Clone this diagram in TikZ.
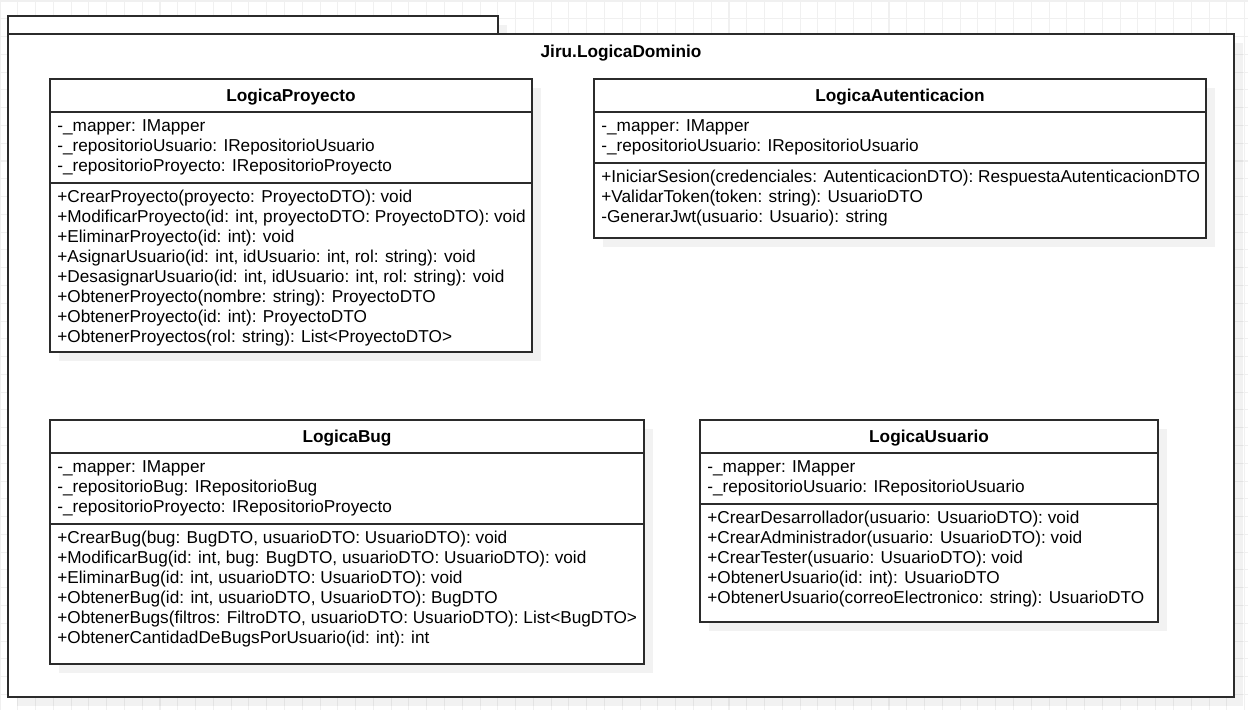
\documentclass[tikz,border=0pt]{standalone}
\usepackage{fontspec}
\setmainfont{Liberation Sans}
\usetikzlibrary{matrix,calc}

\definecolor{linecol}{HTML}{2B2B2B}
\definecolor{gridcol}{HTML}{F0F0F0}

\begin{document}
\begin{tikzpicture}[x=0.02cm,y=-0.02cm,
		box/.style={draw=linecol,line width=0.8pt,fill=white},
		divider/.style={draw=linecol,line width=0.8pt},
		drop/.style={fill=black,fill opacity=0.05},
		classname/.style={font=\fontsize{9.8}{12}\selectfont\bfseries},
		members/.style={matrix of nodes,anchor=north west,inner sep=0pt,row sep=0pt,
					nodes={anchor=base west,inner sep=0pt,text height=0.28cm,text depth=0.12cm,
					font=\fontsize{9.8}{12}\selectfont}}]
	\useasboundingbox (0,0) rectangle (1248,710);

	\foreach \i in {0,...,70}
		\draw[gridcol,line width=0.6pt] (\i*17.78,0) -- (\i*17.78,710);
	\foreach \j in {0,...,40}
		\draw[gridcol,line width=0.6pt] (0,\j*17.78+1) -- (1248,\j*17.78+1);

	\fill[drop] (17,25) rectangle (507,43);
	\fill[drop] (17,43) rectangle (1243,706);
	\draw[box] (8,16) rectangle (498,34);
	\draw[box] (8,34) rectangle (1234,697);
	\node[classname] (pkg) at (621,53) {Jiru.LogicaDominio};

	\fill[drop] (59,88) rectangle (541,361);
	\draw[box] (50,79) rectangle (532,352);
	\draw[divider] (50,112) -- (532,112) (50,183) -- (532,183);
	\node[classname] (proy) at (291,97.5) {LogicaProyecto};
	\matrix (proyattr) [members] at (57,117.5)
	{
	-\_mapper: IMapper \\
	-\_repositorioUsuario: IRepositorioUsuario \\
	-\_repositorioProyecto: IRepositorioProyecto \\
	};
	\matrix (proyops) [members] at (57,188)
	{
	+CrearProyecto(proyecto: ProyectoDTO): void \\
	+ModificarProyecto(id: int, proyectoDTO: ProyectoDTO): void \\
	+EliminarProyecto(id: int): void \\
	+AsignarUsuario(id: int, idUsuario: int, rol: string): void \\
	+DesasignarUsuario(id: int, idUsuario: int, rol: string): void \\
	+ObtenerProyecto(nombre: string): ProyectoDTO \\
	+ObtenerProyecto(id: int): ProyectoDTO \\
	+ObtenerProyectos(rol: string): List\textless ProyectoDTO\textgreater \\
	};

	\fill[drop] (603,88) rectangle (1215,247);
	\draw[box] (594,79) rectangle (1206,238);
	\draw[divider] (594,112) -- (1206,112) (594,163) -- (1206,163);
	\node[classname] (auth) at (900,97.5) {LogicaAutenticacion};
	\matrix (authattr) [members] at (601,117.5)
	{
	-\_mapper: IMapper \\
	-\_repositorioUsuario: IRepositorioUsuario \\
	};
	\matrix (authops) [members] at (601,168)
	{
	+IniciarSesion(credenciales: AutenticacionDTO): RespuestaAutenticacionDTO \\
	+ValidarToken(token: string): UsuarioDTO \\
	-GenerarJwt(usuario: Usuario): string \\
	};

	\fill[drop] (59,429) rectangle (653,673);
	\draw[box] (50,420) rectangle (644,664);
	\draw[divider] (50,453) -- (644,453) (50,524) -- (644,524);
	\node[classname] (bug) at (347,438.5) {LogicaBug};
	\matrix (bugattr) [members] at (57,458.5)
	{
	-\_mapper: IMapper \\
	-\_repositorioBug: IRepositorioBug \\
	-\_repositorioProyecto: IRepositorioProyecto \\
	};
	\matrix (bugops) [members] at (57,529)
	{
	+CrearBug(bug: BugDTO, usuarioDTO: UsuarioDTO): void \\
	+ModificarBug(id: int, bug: BugDTO, usuarioDTO: UsuarioDTO): void \\
	+EliminarBug(id: int, usuarioDTO: UsuarioDTO): void \\
	+ObtenerBug(id: int, usuarioDTO, UsuarioDTO): BugDTO \\
	+ObtenerBugs(filtros: FiltroDTO, usuarioDTO: UsuarioDTO): List\textless BugDTO\textgreater \\
	+ObtenerCantidadDeBugsPorUsuario(id: int): int \\
	};

	\fill[drop] (709,429) rectangle (1167,631);
	\draw[box] (700,420) rectangle (1158,622);
	\draw[divider] (700,453) -- (1158,453) (700,504) -- (1158,504);
	\node[classname] (usr) at (929,438.5) {LogicaUsuario};
	\matrix (usrattr) [members] at (707,458.5)
	{
	-\_mapper: IMapper \\
	-\_repositorioUsuario: IRepositorioUsuario \\
	};
	\matrix (usrops) [members] at (707,509)
	{
	+CrearDesarrollador(usuario: UsuarioDTO): void \\
	+CrearAdministrador(usuario: UsuarioDTO): void \\
	+CrearTester(usuario: UsuarioDTO): void \\
	+ObtenerUsuario(id: int): UsuarioDTO \\
	+ObtenerUsuario(correoElectronico: string): UsuarioDTO \\
	};
\end{tikzpicture}
\end{document}
